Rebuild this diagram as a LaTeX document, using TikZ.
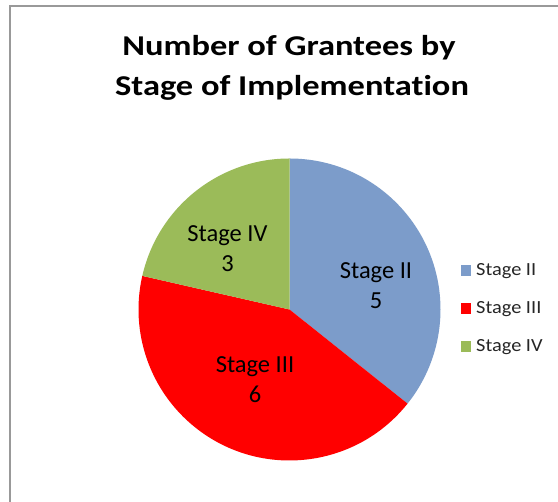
\documentclass[tikz,border=0pt]{standalone}
\usepackage{fontspec}
\setmainfont{Carlito}[Ligatures=NoCommon]
\newfontfamily\titlefont[FakeStretch=1.2,Ligatures=NoCommon]{Carlito}
\newfontfamily\legfont[FakeStretch=1.1,Ligatures=NoCommon]{Carlito}
\definecolor{s2col}{HTML}{7C9CCA}
\definecolor{s3col}{HTML}{FF0000}
\definecolor{s4col}{HTML}{9BBB59}
\definecolor{framecol}{HTML}{999999}
\tikzset{
  slicelabel/.style={align=center, inner sep=0pt, anchor=north, font=\fontsize{24.5}{30}\selectfont, text=black},
  legtext/.style={anchor=base west, inner sep=0pt, font=\legfont\fontsize{18.5}{22}\selectfont, text=black!85},
  legbox/.style={minimum size=10.5pt, inner sep=0pt, draw=none},
}
\begin{document}
\begin{tikzpicture}[x=1pt,y=1pt]
\useasboundingbox (0,0) rectangle (558,502);
\fill[white] (0,0) rectangle (558,502);
% frame
\draw[framecol, line width=2pt] (9.5,0) -- (9.5,495.5) -- (558,495.5);
% title
\node[align=center, inner sep=0pt, anchor=north, font=\titlefont\bfseries\fontsize{28.7}{40}\selectfont] (title) at (292,466.5) {Number of Grantees by\kern 6pt\\Stage of Implementation};
% pie
\coordinate (c) at (289.5,192.5);
\fill[s2col] (c) -- ++(90:151) arc[start angle=90, end angle=-38.57, radius=151] -- cycle;
\fill[s3col] (c) -- ++(-38.57:151) arc[start angle=-38.57, end angle=-192.86, radius=151] -- cycle;
\fill[s4col] (c) -- ++(-192.86:151) arc[start angle=-192.86, end angle=-270, radius=151] -- cycle;
% slice labels
\node[slicelabel] (l2) at (376,240) {Stage II\\5};
\node[slicelabel] (l4) at (227.5,277) {Stage IV\\3};
\node[slicelabel] (l3) at (255,145.3) {Stage III\\6};
% legend
\node[legbox, fill=s2col] (k2) at (466,231.5) {};
\node[legbox, fill=s3col] (k3) at (466,193.5) {};
\node[legbox, fill=s4col] (k4) at (466,155.5) {};
\node[legtext] (t2) at (476,226) {Stage II};
\node[legtext] (t3) at (476,188) {Stage III};
\node[legtext] (t4) at (476,150) {Stage IV};
\end{tikzpicture}
\end{document}
